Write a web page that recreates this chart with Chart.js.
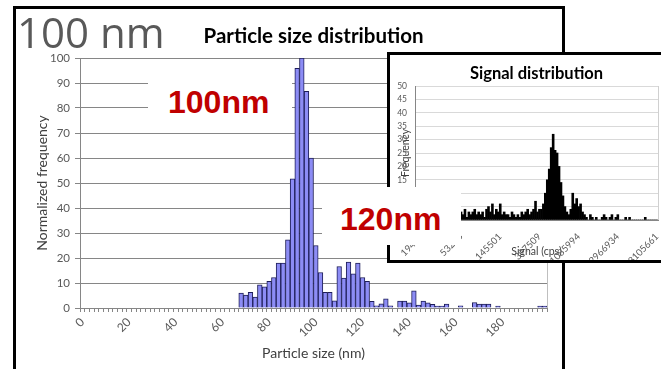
<!DOCTYPE html>
<html>
<head>
<meta charset="utf-8">
<script src="https://cdn.jsdelivr.net/npm/chart.js@4.4.1/dist/chart.umd.min.js"></script>
<style>
  html, body { margin: 0; padding: 0; background: #fff; }
  body { width: 661px; height: 369px; overflow: hidden; position: relative; }
  .abs { position: absolute; }
  #mainBox { left: 13px; top: 6px; width: 552px; height: 420px; border: 3px solid #000; box-sizing: border-box; }
  #bigLabel { left: 17px; top: 11px; font: 42px 'Open Sans', sans-serif; color: #595959; line-height: 42px; white-space: nowrap; }
  #inset { left: 387px; top: 52px; width: 300px; height: 211px; border: 3px solid #000; background: #fff; box-sizing: border-box; }
  .white { background: #fff; }
  .red { font: bold 32px 'Liberation Sans', Arial, sans-serif; color: #c00000; line-height: 32px; white-space: nowrap; }
</style>
</head>
<body>
<div id="mainBox" class="abs"></div>
<canvas id="sizeChart" class="abs" style="left:0;top:0" width="565" height="369"></canvas>
<div id="bigLabel" class="abs">100 nm</div>
<div id="inset" class="abs"></div>
<canvas id="signalChart" class="abs" style="left:390px;top:55px" width="290" height="205"></canvas>
<div class="abs white" style="left:148px;top:72px;width:144px;height:50px"></div>
<div class="abs red" style="left:168px;top:86px">100nm</div>
<div class="abs white" style="left:322px;top:187px;width:139px;height:58px"></div>
<div class="abs red" style="left:340px;top:203px">120nm</div>

<script>
// Particle size distribution (2 nm bins)
const sizeBins = [0,2,4,6,8,10,12,14,16,18,20,22,24,26,28,30,32,34,36,38,
  40,42,44,46,48,50,52,54,56,58,60,62,64,66,68,70,72,74,76,78,
  80,82,84,86,88,90,92,94,96,98,100,102,104,106,108,110,112,114,116,118,
  120,122,124,126,128,130,132,134,136,138,140,142,144,146,148,150,152,154,156,158,
  160,162,164,166,168,170,172,174,176,178,180,182,184,186,188,190,192,194,196,198];
const sizeFreq = [0,0,0,0,0,0,0,0,0,0,0,0,0,0,0,0,0,0,0,0,
  0,0,0,0,0,0,0,0,0,0,0,0,0,0,6,5.2,6.3,4.4,9.3,8.5,
  10.7,12.2,18,18,27.3,51.7,95.9,100,86.7,60,25,14.2,6.3,6.3,2.9,16.6,12,18.4,13.7,18,
  12.2,10.7,2.7,0.9,1.7,3.7,0.9,0,2.8,2.8,2.1,6.9,1.2,2.8,2.1,1.5,0.8,0.8,1.6,0,
  0,0.9,0,0,2.2,1.6,1.6,1.6,0,0.8,0,0,0,0,0,0,0,0,0.8,0.8];
const sizeTicks = [0,20,40,60,80,100,120,140,160,180];

// Signal distribution (inset)
const signalFreq = [2,3,1,4,2,3,3,2,4,1,3,2,5,3,2,4,3,1,3,2,4,3,2,
  3,2,4,1,3,2,3,4,2,3,2,3,1,
  4,5,3,6,2,4,3,6,2,
  3,2,2,1,3,2,1,2,1,3,2,
  3,4,2,3,4,7,3,4,
  4,6,10,15,19,27,32,26,25,20,14,9,5,3,
  2,4,10,6,8,5,6,3,2,
  1,0,2,1,0,1,0,0,1,2,1,0,1,2,0,1,2,0,0,0,1,0,1,0,0,0,0,0,0,0,1,0,0,0,0,0,0];
const signalTicks = ['19494','53258','145501','397509','1085994','2966934','8105661'];
const signalTickBins = [3,23,43,63,83,103,123];

Chart.defaults.font.family = 'Lato';
Chart.defaults.animation = false;

const plotFrame = {
  id: 'plotFrame',
  beforeDatasetsDraw(chart, args, opts) {
    const { ctx, chartArea: a } = chart;
    ctx.save();
    ctx.strokeStyle = opts.color;
    ctx.lineWidth = 1;
    ctx.beginPath();
    ctx.moveTo(Math.round(a.right) + 0.5, a.top);
    ctx.lineTo(Math.round(a.right) + 0.5, a.bottom);
    ctx.stroke();
    ctx.restore();
  }
};

new Chart(document.getElementById('sizeChart'), {
  type: 'bar',
  data: {
    labels: sizeBins,
    datasets: [{
      data: sizeFreq,
      backgroundColor: '#8c8cf5',
      borderColor: '#1e1e58',
      borderWidth: 1,
      barPercentage: 1,
      categoryPercentage: 1
    }]
  },
  options: {
    responsive: false,
    layout: { padding: { left: 34, right: 18, top: 6, bottom: 0 } },
    plugins: {
      legend: { display: false },
      tooltip: { enabled: false },
      title: {
        display: true,
        text: 'Particle size distribution',
        fullSize: false,
        color: '#000',
        font: { size: 20.5, weight: 'bold' },
        padding: { top: 17.7, bottom: 9.7 }
      },
      plotFrame: { color: '#bfbfbf' }
    },
    scales: {
      x: {
        afterFit: s => { s.height = 61; },
        grid: { drawOnChartArea: false, drawTicks: true, tickLength: 4, color: '#868686' },
        border: { color: '#868686' },
        ticks: {
          autoSkip: false,
          minRotation: 45,
          maxRotation: 45,
          padding: 3,
          color: '#595959',
          font: { size: 12 },
          callback: (v, i) => sizeTicks.includes(sizeBins[i]) ? String(sizeBins[i]) : ''
        },
        title: {
          display: true,
          text: 'Particle size (nm)',
          color: '#404040',
          font: { size: 14 },
          padding: { top: 0, bottom: 7.6 }
        }
      },
      y: {
        min: 0,
        max: 100,
        afterFit: s => { s.width = 46; },
        grid: { color: '#868686', tickLength: 5 },
        border: { color: '#868686' },
        ticks: { stepSize: 10, padding: 5, color: '#595959', font: { size: 11.5 } },
        title: {
          display: true,
          text: 'Normalized frequency',
          color: '#404040',
          font: { size: 14 },
          padding: { top: 0, bottom: 0 }
        }
      }
    }
  },
  plugins: [plotFrame]
});

new Chart(document.getElementById('signalChart'), {
  type: 'bar',
  data: {
    labels: signalFreq.map((_, i) => i),
    datasets: [{
      data: signalFreq,
      backgroundColor: '#000',
      borderWidth: 0,
      barPercentage: 1,
      categoryPercentage: 1
    }]
  },
  options: {
    responsive: false,
    layout: { padding: { left: 0, right: 22, top: 0, bottom: 0 } },
    plugins: {
      legend: { display: false },
      tooltip: { enabled: false },
      title: {
        display: true,
        text: 'Signal distribution',
        fullSize: false,
        color: '#000',
        font: { size: 16.5, weight: 'bold' },
        padding: { top: 9.1, bottom: 2.1 }
      },
      plotFrame: { color: '#d0d0d0' }
    },
    scales: {
      x: {
        afterFit: s => { s.height = 40; },
        grid: { display: false },
        border: { color: '#868686' },
        ticks: {
          autoSkip: false,
          minRotation: 45,
          maxRotation: 45,
          padding: 3,
          color: '#595959',
          font: { size: 9.5 },
          callback: (v, i) => {
            const k = signalTickBins.indexOf(i);
            return k >= 0 ? signalTicks[k] : '';
          }
        },
        title: {
          display: true,
          text: 'Signal (cps)',
          color: '#404040',
          font: { size: 10.5 },
          padding: { top: 0, bottom: 2 }
        }
      },
      y: {
        min: 0,
        max: 50,
        afterFit: s => { s.width = 25; },
        grid: { color: '#d9d9d9', drawTicks: false },
        border: { color: '#868686' },
        ticks: { stepSize: 5, padding: 8, color: '#595959', font: { size: 8.5 } },
        title: {
          display: true,
          text: 'Frequency',
          color: '#404040',
          font: { size: 10.5 },
          padding: { top: 9.7, bottom: 0 }
        }
      }
    }
  },
  plugins: [plotFrame]
});
</script>
</body>
</html>
